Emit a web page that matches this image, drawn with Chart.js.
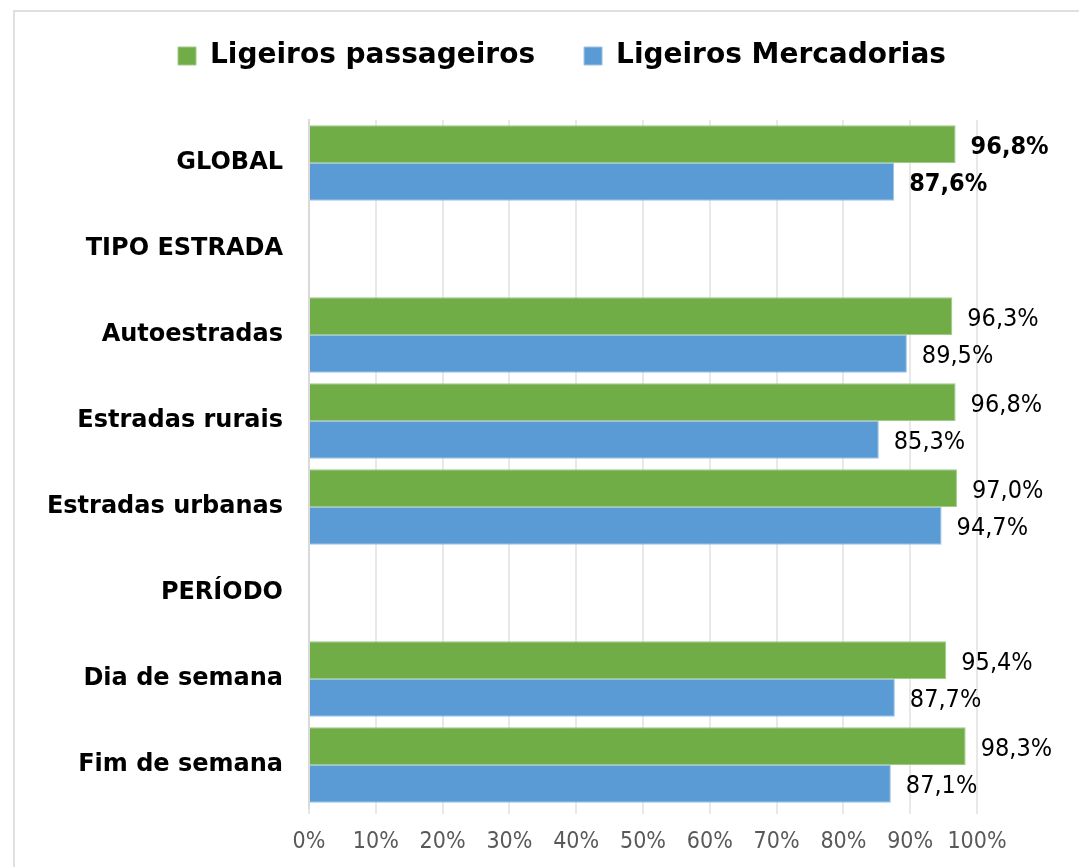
<!DOCTYPE html>
<html lang="pt">
<head>
    <meta charset="UTF-8">
    <title>Ligeiros passageiros vs Ligeiros Mercadorias</title>
    <style>
        body {
            margin: 0;
            padding: 0;
            background-color: #fff;
            overflow: hidden;
        }

        #frame {
            position: absolute;
            left: 13px;
            top: 10px;
            width: 1080px;
            height: 870px;
            border: 2px solid #e0e0e0;
        }

        #wrap {
            position: absolute;
            left: 0;
            top: 0;
            width: 1079px;
            height: 867px;
        }
    </style>
    <script src="https://cdn.jsdelivr.net/npm/chart.js"></script>
</head>
<body>

<div id="frame"></div>
<div id="wrap">
    <canvas id="chart" width="1079" height="867"></canvas>
</div>

<script>
    const categories = ['GLOBAL', 'TIPO ESTRADA', 'Autoestradas', 'Estradas rurais',
        'Estradas urbanas', 'PERÍODO', 'Dia de semana', 'Fim de semana'];
    const passageiros = [96.8, null, 96.3, 96.8, 97.0, null, 95.4, 98.3];
    const mercadorias = [87.6, null, 89.5, 85.3, 94.7, null, 87.7, 87.1];
    const seriesNames = ['Ligeiros passageiros', 'Ligeiros Mercadorias'];
    const xTicks = [0, 10, 20, 30, 40, 50, 60, 70, 80, 90, 100];

    const condensed = '"DejaVu Sans Condensed", "DejaVu Sans", sans-serif';
    const wide = '"DejaVu Sans", sans-serif';

    // espaco extra entre a legenda e o grafico
    const legendGap = {
        id: 'legendGap',
        beforeInit(chart) {
            const fit = chart.legend.fit;
            chart.legend.fit = function () {
                fit.bind(chart.legend)();
                this.height += 40;
            };
        }
    };

    // etiquetas de valor a direita de cada barra
    const valueLabels = {
        id: 'valueLabels',
        afterDatasetsDraw(chart) {
            const ctx = chart.ctx;
            ctx.save();
            ctx.fillStyle = '#000';
            ctx.textAlign = 'left';
            ctx.textBaseline = 'middle';
            chart.data.datasets.forEach(function (ds, di) {
                const meta = chart.getDatasetMeta(di);
                meta.data.forEach(function (bar, i) {
                    const v = ds.data[i];
                    if (v === null) return;
                    const bold = i === 0 ? 'bold ' : '';
                    ctx.font = bold + '25px ' + condensed;
                    ctx.fillText(v.toFixed(1).replace('.', ',') + '%', bar.x + 15, bar.y + 3);
                });
            });
            ctx.restore();
        }
    };

    new Chart(document.getElementById('chart'), {
        type: 'bar',
        data: {
            labels: categories,
            datasets: [{
                label: seriesNames[0],
                data: passageiros,
                backgroundColor: '#70ad47',
                borderColor: '#9fcb85',
                borderWidth: 1
            }, {
                label: seriesNames[1],
                data: mercadorias,
                backgroundColor: '#5b9bd5',
                borderColor: '#9cc3e6',
                borderWidth: 1
            }]
        },
        options: {
            indexAxis: 'y',
            responsive: false,
            animation: false,
            layout: {
                padding: { left: 45, right: 0, top: -7, bottom: 0 }
            },
            datasets: {
                bar: {
                    categoryPercentage: 0.88,
                    barPercentage: 1
                }
            },
            plugins: {
                legend: {
                    position: 'top',
                    labels: {
                        boxWidth: 18,
                        boxHeight: 18,
                        padding: 49,
                        color: '#000',
                        font: { family: wide, size: 28, weight: 'bold' }
                    }
                },
                tooltip: { enabled: false }
            },
            scales: {
                x: {
                    min: 0,
                    max: 100,
                    afterBuildTicks(scale) {
                        scale.ticks = xTicks.map(function (v) { return { value: v }; });
                    },
                    afterFit(scale) {
                        scale.height = 59;
                    },
                    ticks: {
                        color: '#595959',
                        padding: 14,
                        font: { family: condensed, size: 23 },
                        callback: function (v) { return v + '%'; }
                    },
                    grid: {
                        color: '#e8e8e8',
                        lineWidth: 2,
                        tickLength: 6
                    },
                    border: { display: false }
                },
                y: {
                    afterFit(scale) {
                        scale.width = 264;
                    },
                    ticks: {
                        color: '#000',
                        padding: 18,
                        font: { family: wide, size: 24, weight: 'bold' }
                    },
                    grid: { display: false },
                    border: { color: '#d9d9d9', width: 2 }
                },
                // eixo vazio a direita, so para reservar espaco para as etiquetas
                yRight: {
                    type: 'linear',
                    axis: 'y',
                    position: 'right',
                    afterFit(scale) {
                        scale.width = 102;
                    },
                    ticks: { display: false },
                    grid: { display: false },
                    border: { display: false }
                }
            }
        },
        plugins: [legendGap, valueLabels]
    });
</script>

</body>
</html>
